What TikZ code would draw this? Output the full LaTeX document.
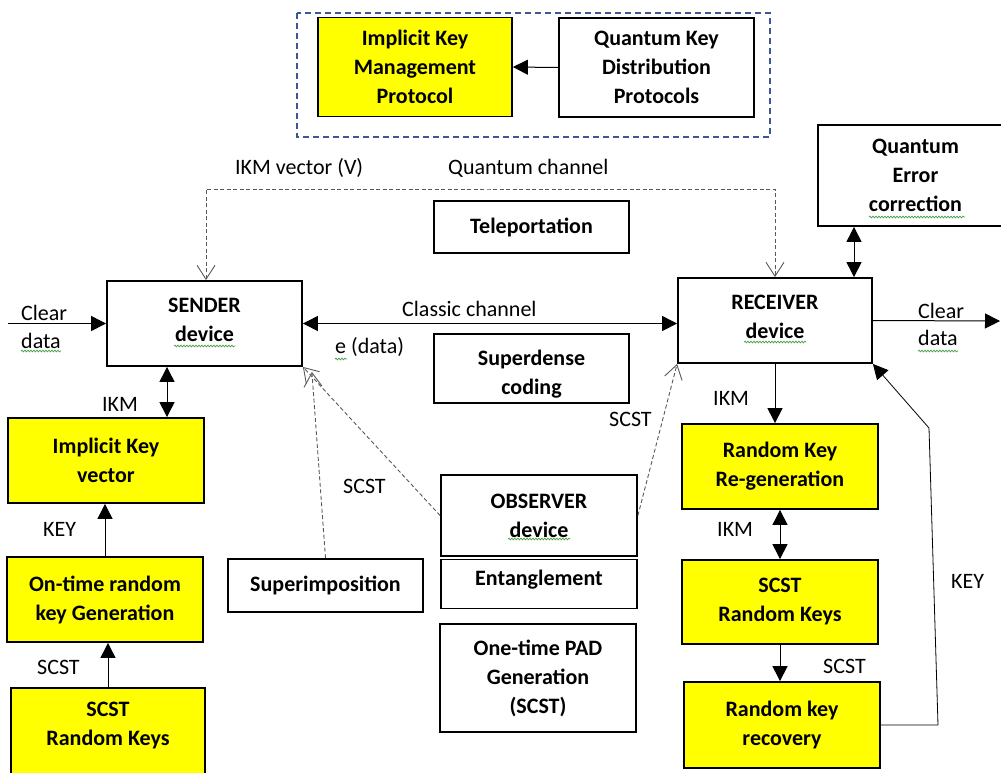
\documentclass[tikz,border=0pt]{standalone}
\usepackage{fontspec}
\setmainfont{Carlito}
\usetikzlibrary{arrows.meta,decorations.pathmorphing}
\definecolor{kyellow}{RGB}{255,255,0}
\definecolor{frameblue}{RGB}{60,88,145}
\definecolor{squiggle}{RGB}{70,160,70}
\tikzset{
  box/.style={draw=black, line width=1.8pt, inner sep=0pt, align=center,
    font=\fontsize{22}{29}\selectfont\bfseries},
  ybox/.style={box, fill=kyellow},
  lbl/.style={inner sep=0pt, anchor=base west, font=\fontsize{22}{29}\selectfont},
  tri/.style={line width=1pt, -{Triangle[length=15pt,width=15pt]}},
  dtri/.style={line width=1pt, {Triangle[length=15pt,width=15pt]}-{Triangle[length=15pt,width=15pt]}},
  dsh/.style={black!65, line width=0.9pt, dash pattern=on 4pt off 2.5pt,
    -{Straight Barb[length=14pt,width=18pt,line width=0.9pt]}},
  ddsh/.style={black!65, line width=0.9pt, dash pattern=on 4pt off 2.5pt,
    {Straight Barb[length=14pt,width=18pt,line width=0.9pt]}-{Straight Barb[length=14pt,width=18pt,line width=0.9pt]}},
  squig/.style={squiggle, line width=0.7pt, decorate,
    decoration={snake, amplitude=0.9pt, segment length=3pt}}
}
\begin{document}
\begin{tikzpicture}[x=1pt,y=-1pt]
\useasboundingbox (0,0) rectangle (1001,772);
\clip (0,0) rectangle (1001,772);

% protocol group
\draw[frameblue, line width=1.6pt, dash pattern=on 6pt off 4pt] (297,13) rectangle (770,137);
\node[ybox, minimum width=194pt, minimum height=99pt] (ikmp) at (415,67) {Implicit Key\\Management\\Protocol};
\node[box, minimum width=195pt, minimum height=99pt] (qkd) at (656.5,67.5) {Quantum Key\\Distribution\\Protocols};
\draw[tri] (qkd.west) -- (ikmp.east);

% main devices
\node[box, minimum width=195pt, minimum height=85pt] (sender) at (204.5,323.5) {};
\node[box, draw=none] (sendertext) at (204.5,320) {SENDER\\device};
\node[box, minimum width=194pt, minimum height=85pt] (receiver) at (775,320.5) {};
\node[box, draw=none] (receivertext) at (775,317) {RECEIVER\\device};
\node[box, minimum width=195pt, minimum height=52pt] (tele) at (531.5,227) {Teleportation};
\node[box, minimum width=195pt, minimum height=69pt] (sdc) at (531.5,368.5) {};
\begin{scope}
  \clip (434,334) rectangle (629,402);
  \node[box, draw=none] (sdctext) at (531.5,374) {Superdense\\coding};
\end{scope}
\node[box, minimum width=195pt, minimum height=101pt] (qec) at (915.5,175.5) {Quantum\\Error\\correction};

% sender chain
\node[ybox, minimum width=196pt, minimum height=85pt] (ikv) at (106,460.5) {Implicit Key\\vector};
\node[ybox, minimum width=196pt, minimum height=85pt] (ontime) at (105,599.5) {On-time random\\key Generation};
\node[ybox, minimum width=194pt, minimum height=102pt] (scstl) at (108,739) {};
\node[box, draw=none, fill=none] (scstltext) at (108,726) {SCST\\Random Keys};

% observer side
\node[box, minimum width=195pt, minimum height=53pt] (superimp) at (325.5,585.5) {Superimposition};
\node[box, minimum width=196pt, minimum height=81pt] (observer) at (539,515.5) {OBSERVER\\device};
\node[box, minimum width=196pt, minimum height=49pt] (entangle) at (539,584) {};
\node[box, draw=none] (entangletext) at (539,580) {Entanglement};
\node[box, minimum width=196pt, minimum height=108pt] (otp) at (538,678) {One-time PAD\\Generation\\(SCST)};

% receiver chain
\node[ybox, minimum width=196pt, minimum height=85pt] (rkr) at (780,466.5) {Random Key\\Re-generation};
\node[ybox, minimum width=196pt, minimum height=84pt] (scstr) at (780,602) {SCST\\Random Keys};
\node[ybox, minimum width=196pt, minimum height=86pt] (recovery) at (782,725) {Random key\\recovery};

% clear data in / out
\coordinate (cin) at (8,323.5);
\coordinate (cout) at (1000,321);
\draw[tri] (cin) -- (sender.west);
\draw[tri] (receiver.east) -- (cout);
\node[lbl] (clearl) at (21,320) {Clear};
\node[lbl] (datal) at (21,348) {data};
\node[lbl] (clearr) at (918,318) {Clear};
\node[lbl] (datar) at (918,345) {data};

% classic channel
\draw[dtri] (sender.east) -- (sender.east -| receiver.west);
\node[lbl] (classic) at (402,316) {Classic channel};
\node[lbl] (edata) at (335,353) {e (data)};

% quantum channel
\coordinate (qtop) at (490,189);
\draw[ddsh] ([xshift=1.5pt]sender.north) |- (qtop) -| (receiver.north);
\node[lbl] (ikmv) at (235,174) {IKM vector (V)};
\node[lbl] (qch) at (448,174) {Quantum channel};

% error correction
\draw[dtri] ([xshift=79pt]receiver.north) coordinate (qa) -- (qa |- qec.south);

% sender side arrows
\draw[dtri] ([xshift=-37.5pt]sender.south) coordinate (sa) -- (sa |- ikv.north);
\node[lbl] (ikm1) at (102,411) {IKM};
\draw[tri] (ontime.north) -- (ontime.north |- ikv.south);
\node[lbl] (key1) at (43,536) {KEY};
\draw[tri] (scstl.north) -- (scstl.north |- ontime.south);
\node[lbl] (scst1) at (37,674) {SCST};

% observer links
\draw[dsh] (superimp.north) -- ([xshift=9pt,yshift=-5pt]sender.south east);
\draw[dsh] (observer.west) -- (sender.south east);
\node[lbl] (scst2) at (343,493) {SCST};
\draw[dsh] (observer.east) -- (receiver.south west);
\node[lbl] (scst3) at (609,426) {SCST};

% receiver side arrows
\draw[tri] (receiver.south) -- (receiver.south |- rkr.north);
\node[lbl] (ikm2) at (713,405) {IKM};
\draw[dtri] (rkr.south) -- (scstr.north);
\node[lbl] (ikm3) at (717,536) {IKM};
\draw[tri] (scstr.south) -- (scstr.south |- recovery.north);
\node[lbl] (scst4) at (823,673) {SCST};

% key feedback
\coordinate (k1) at (938,725);
\coordinate (k2) at (929,428);
\draw[tri, line width=0.8pt] (recovery.east) -- (k1) -- (k2) -- (receiver.south east);
\node[lbl] (key2) at (951,588) {KEY};

% spelling marks
\draw[squig] (174,346) -- (235,346);
\draw[squig] (21,351) -- (61,351);
\draw[squig] (335,359) -- (347,359);
\draw[squig] (744,342) -- (806,342);
\draw[squig] (918,351) -- (958,351);
\draw[squig] (869,217) -- (965,217);
\draw[squig] (508,539) -- (570,539);
\end{tikzpicture}
\end{document}
